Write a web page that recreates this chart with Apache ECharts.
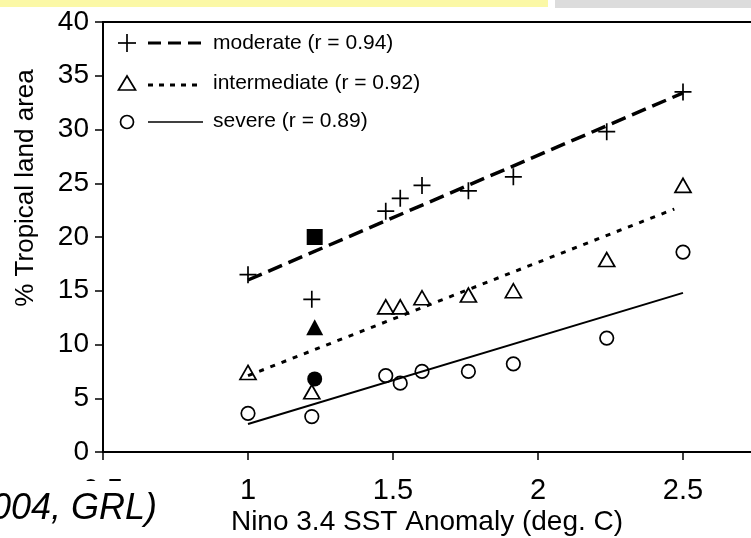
<!DOCTYPE html>
<html>
<head>
<meta charset="utf-8">
<script src="https://cdn.jsdelivr.net/npm/echarts@6/dist/echarts.min.js"></script>
<style>
html,body{margin:0;padding:0;background:#fff;}
#c{width:751px;height:538px;}
</style>
</head>
<body>
<div id="c"></div>
<script>
// ---- data ----
var sstX          = [1.00, 1.22, 1.475, 1.525, 1.60, 1.76, 1.915, 2.237, 2.50];
var moderateY     = [16.5, 14.2, 22.4, 23.6, 24.8, 24.3, 25.6, 29.8, 33.5];
var intermediateY = [7.4, 5.6, 13.5, 13.5, 14.35, 14.6, 15.0, 17.9, 24.8];
var severeY       = [3.6, 3.3, 7.1, 6.4, 7.5, 7.5, 8.2, 10.6, 18.6];
var specialX = 1.23;
var specialModerate = 20.0, specialIntermediate = 11.6, specialSevere = 6.8;
var moderateFit     = [[1.0, 16.0], [2.5, 33.4]];
var intermediateFit = [[1.0, 7.1], [2.47, 22.6]];
var severeFit       = [[1.0, 2.6], [2.5, 14.8]];
var legendLabels = ['moderate (r = 0.94)', 'intermediate (r = 0.92)', 'severe (r = 0.89)'];
var yTitle = '% Tropical land area';
var xTitle = 'Nino 3.4 SST Anomaly (deg. C)';
var citeText = '004, GRL)';

function pairs(xs, ys){ return xs.map(function(x,i){ return [x, ys[i]]; }); }

var FONT = '"Liberation Sans", Arial, sans-serif';
var PLUS = 'path://M0,9H20V11H0Z M9,0H11V20H9Z';
var chart = echarts.init(document.getElementById('c'), null, {renderer:'canvas'});

var option = {
  backgroundColor: '#ffffff',
  animation: false,
  grid: { left: 103, top: 22, width: 725, height: 430, show: true, borderColor: '#000', borderWidth: 2, containLabel: false, outerBoundsMode: 'none' },
  xAxis: {
    type: 'value', min: 0.5, max: 3.0, interval: 0.5,
    splitLine: { show: false },
    axisLine: { show: true, onZero: false, lineStyle: { color: '#000', width: 2 } },
    axisTick: { show: true, inside: false, length: 8, lineStyle: { color: '#000', width: 1.5 } },
    axisLabel: { color: '#000', fontSize: 29, fontFamily: FONT, margin: 24 }
  },
  yAxis: {
    type: 'value', min: 0, max: 40, interval: 5,
    splitLine: { show: false },
    axisLine: { show: true, lineStyle: { color: '#000', width: 2 } },
    axisTick: { show: true, inside: false, length: 8, lineStyle: { color: '#000', width: 1.5 } },
    axisLabel: { color: '#000', fontSize: 28, fontFamily: FONT, margin: 14 }
  },
  series: [
    { type: 'line', data: moderateFit, symbol: 'none', lineStyle: { color: '#000', width: 3.5, type: [15, 7] }, z: 2 },
    { type: 'line', data: intermediateFit, symbol: 'none', lineStyle: { color: '#000', width: 3, type: [5, 7] }, z: 2 },
    { type: 'line', data: severeFit, symbol: 'none', lineStyle: { color: '#000', width: 2 }, z: 2 },
    { type: 'scatter', data: pairs(sstX, moderateY), symbol: PLUS, symbolSize: 17, itemStyle: { color: '#000', opacity: 1 }, z: 3 },
    { type: 'scatter', data: pairs(sstX, intermediateY), symbol: 'triangle', symbolSize: [16, 14], itemStyle: { color: 'rgba(0,0,0,0)', borderColor: '#000', borderWidth: 1.7, opacity: 1 }, z: 3 },
    { type: 'scatter', data: pairs(sstX, severeY), symbol: 'circle', symbolSize: 13.5, itemStyle: { color: 'rgba(0,0,0,0)', borderColor: '#000', borderWidth: 1.7, opacity: 1 }, z: 3 },
    { type: 'scatter', data: [[specialX, specialModerate]], symbol: 'rect', symbolSize: 16, itemStyle: { color: '#000', opacity: 1 }, z: 3 },
    { type: 'scatter', data: [[specialX, specialIntermediate]], symbol: 'triangle', symbolSize: [17, 16], itemStyle: { color: '#000', opacity: 1 }, z: 3 },
    { type: 'scatter', data: [[specialX, specialSevere]], symbol: 'circle', symbolSize: 15, itemStyle: { color: '#000', opacity: 1 }, z: 3 }
  ],
  graphic: [
    // top slide decorations
    { type: 'rect', shape: { x: 0, y: 0, width: 548, height: 7 }, style: { fill: '#fbf8a6' }, z: 10 },
    { type: 'rect', shape: { x: 555, y: 0, width: 196, height: 8 }, style: { fill: '#dcdcdc' }, z: 10 },
    // legend
    { type: 'line', shape: { x1: 118, y1: 43, x2: 136, y2: 43 }, style: { stroke: '#000', lineWidth: 1.7 }, z: 10 },
    { type: 'line', shape: { x1: 127, y1: 34, x2: 127, y2: 52 }, style: { stroke: '#000', lineWidth: 1.7 }, z: 10 },
    { type: 'line', shape: { x1: 148, y1: 43, x2: 204, y2: 43 }, style: { stroke: '#000', lineWidth: 3, lineDash: [13, 7] }, z: 10 },
    { type: 'text', x: 213, y: 43, style: { text: legendLabels[0], font: '21px ' + FONT, fill: '#000', verticalAlign: 'middle' }, z: 10 },
    { type: 'polygon', shape: { points: [[127, 76], [118.5, 90], [135.5, 90]] }, style: { stroke: '#000', lineWidth: 1.7, fill: 'rgba(0,0,0,0)' }, z: 10 },
    { type: 'line', shape: { x1: 148, y1: 85, x2: 198, y2: 85 }, style: { stroke: '#000', lineWidth: 3, lineDash: [5, 6] }, z: 10 },
    { type: 'text', x: 213, y: 83, style: { text: legendLabels[1], font: '21px ' + FONT, fill: '#000', verticalAlign: 'middle' }, z: 10 },
    { type: 'circle', shape: { cx: 127, cy: 122, r: 6.5 }, style: { stroke: '#000', lineWidth: 1.7, fill: 'rgba(0,0,0,0)' }, z: 10 },
    { type: 'line', shape: { x1: 148, y1: 122, x2: 203, y2: 122 }, style: { stroke: '#000', lineWidth: 1.7 }, z: 10 },
    { type: 'text', x: 213, y: 121, style: { text: legendLabels[2], font: '21px ' + FONT, fill: '#000', verticalAlign: 'middle' }, z: 10 },
    // axis titles
    { type: 'text', x: 26, y: 188, rotation: Math.PI / 2, style: { text: yTitle, font: '26px ' + FONT, fill: '#000', align: 'center', verticalAlign: 'middle' }, z: 10 },
    { type: 'text', x: 427, y: 522, style: { text: xTitle, font: '28px ' + FONT, fill: '#000', align: 'center', verticalAlign: 'middle' }, z: 10 },
    // overlapping citation box from the slide
    { type: 'rect', shape: { x: 0, y: 481, width: 165, height: 57 }, style: { fill: '#fff' }, z: 20 },
    { type: 'text', x: 157, y: 509, style: { text: citeText, font: 'italic 36px ' + FONT, fill: '#000', align: 'right', verticalAlign: 'middle' }, z: 21 }
  ]
};
chart.setOption(option);
</script>
</body>
</html>
